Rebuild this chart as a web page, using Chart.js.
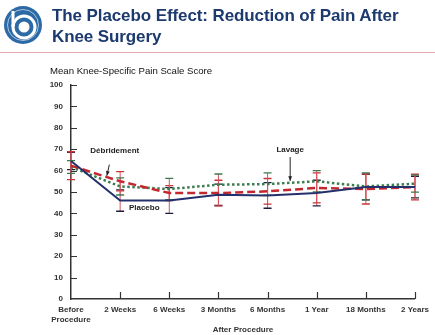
<!DOCTYPE html>
<html>
<head>
<meta charset="utf-8">
<script src="https://cdn.jsdelivr.net/npm/chart.js@4.4.1/dist/chart.umd.min.js"></script>
<style>
  html, body { margin:0; padding:0; background:#fff; }
  #wrap { position:relative; width:435px; height:335px; overflow:hidden; font-family:"Liberation Sans", Arial, sans-serif; }
  #cv { position:absolute; left:0; top:0; }
  #title { position:absolute; left:52px; top:5px; font-size:17px; font-weight:bold; color:#1c3a6e; line-height:21px; letter-spacing:-0.1px; }
  #rule { position:absolute; left:0; top:52px; width:435px; height:1px; background:#e2a6ae; }
  #sub { position:absolute; left:50px; top:65px; font-size:9.6px; color:#111; }
  #logo { position:absolute; left:3px; top:5px; }
</style>
</head>
<body>
<div id="wrap">
  <canvas id="cv" width="435" height="335"></canvas>
  <svg id="logo" width="40" height="40" viewBox="0 0 40 40">
    <circle cx="20" cy="20" r="19" fill="#2c6aa6"/>
    <circle cx="20" cy="20" r="15.5" fill="none" stroke="#ffffff" stroke-width="1" opacity="0.6"/>
    <circle cx="21" cy="22" r="11" fill="none" stroke="#ffffff" stroke-width="3"/>
    <circle cx="21" cy="22" r="5.5" fill="#ffffff"/>
    <rect x="8.5" y="6" width="3" height="16" fill="#ffffff"/>
  </svg>
  <div id="title">The Placebo Effect: Reduction of Pain After<br>Knee Surgery</div>
  <div id="rule"></div>
  <div id="sub">Mean Knee-Specific Pain Scale Score</div>
</div>
<script>
// ---- data ----
const categories = [["Before", "Procedure"], "2 Weeks", "6 Weeks", "3 Months", "6 Months", "1 Year", "18 Months", "2 Years"];
const yTicks = [0, 10, 20, 30, 40, 50, 60, 70, 80, 90, 100];
const placebo     = [64.5, 46, 46, 48.7, 48.4, 49.5, 52.3, 52.3];
const debridement = [62.3, 55, 49.5, 49.5, 50.3, 51.9, 51.4, 52.3];
const lavage      = [61.7, 52.6, 51.4, 53.4, 53.7, 55, 52.6, 53.9];
const placeboErr     = [4, 5, 6, 5, 6, 6, 6, 5];
const debridementErr = [6.5, 4.5, 3.5, 6, 6, 7, 7, 6];
const lavageErr      = [3, 4, 5, 5, 5.2, 5, 6.3, 4];
const seriesNames = ["Placebo", "Débridement", "Lavage"];
const xTitle = "After Procedure";
// annotation anchor positions in data units [index, value]
const annotations = [
  { text: "Débridement", at: [0.89, 69.3], arrow: [[0.78, 62.8], [0.73, 57.6]] },
  { text: "Placebo", at: [1.49, 42.4], arrow: null },
  { text: "Lavage", at: [4.46, 69.8], arrow: [[4.46, 66.3], [4.46, 55.2]] }
];

const axisColor = '#333333';
const labelFont = { family: '"Liberation Sans", Arial, sans-serif', size: 8, weight: 'bold' };

const errorBars = {
  id: 'errorBars',
  beforeDatasetsDraw(chart) {
    const ctx = chart.ctx, xs = chart.scales.x, ys = chart.scales.y;
    const sets = [
      { v: placebo, e: placeboErr, cap: '#1d1d3a' },
      { v: debridement, e: debridementErr, cap: '#c8343a' },
      { v: lavage, e: lavageErr, cap: '#3d7a4f' }
    ];
    ctx.save();
    sets.forEach(s => {
      s.v.forEach((val, i) => {
        const x = xs.getPixelForValue(i);
        const yt = ys.getPixelForValue(val + s.e[i]);
        const yb = ys.getPixelForValue(val - s.e[i]);
        ctx.strokeStyle = '#d9535a';
        ctx.lineWidth = 1;
        ctx.beginPath(); ctx.moveTo(x, yt); ctx.lineTo(x, yb); ctx.stroke();
        ctx.strokeStyle = s.cap;
        ctx.lineWidth = 1.3;
        ctx.beginPath();
        ctx.moveTo(x - 4, yt); ctx.lineTo(x + 4, yt);
        ctx.moveTo(x - 4, yb); ctx.lineTo(x + 4, yb);
        ctx.stroke();
      });
    });
    ctx.restore();
  }
};

const innerTicks = {
  id: 'innerTicks',
  afterDraw(chart) {
    const ctx = chart.ctx, xs = chart.scales.x, ys = chart.scales.y;
    const left = chart.chartArea.left, bottom = chart.chartArea.bottom;
    ctx.save();
    ctx.strokeStyle = axisColor;
    ctx.lineWidth = 1.2;
    ctx.beginPath();
    yTicks.forEach(t => {
      if (t === 0) return;
      const y = Math.round(ys.getPixelForValue(t)) + 0.5;
      ctx.moveTo(left, y); ctx.lineTo(left + 6, y);
    });
    categories.forEach((c, i) => {
      if (i === 0) return;
      const x = Math.round(xs.getPixelForValue(i)) + 0.5;
      ctx.moveTo(x, bottom); ctx.lineTo(x, bottom - 7);
    });
    ctx.stroke();
    // annotations
    ctx.fillStyle = '#222';
    ctx.font = 'bold 8px "Liberation Sans", Arial, sans-serif';
    ctx.textAlign = 'center';
    ctx.textBaseline = 'middle';
    const px = (p) => [xs.getPixelForValue(0) + (xs.getPixelForValue(1) - xs.getPixelForValue(0)) * p[0], ys.getPixelForValue(p[1])];
    annotations.forEach(a => {
      const [tx, ty] = px(a.at);
      ctx.fillText(a.text, tx, ty);
      if (a.arrow) {
        const [x1, y1] = px(a.arrow[0]);
        const [x2, y2] = px(a.arrow[1]);
        ctx.strokeStyle = '#222';
        ctx.lineWidth = 1;
        ctx.beginPath(); ctx.moveTo(x1, y1); ctx.lineTo(x2, y2); ctx.stroke();
        const ang = Math.atan2(y2 - y1, x2 - x1);
        ctx.beginPath();
        ctx.moveTo(x2, y2);
        ctx.lineTo(x2 - 5 * Math.cos(ang - 0.4), y2 - 5 * Math.sin(ang - 0.4));
        ctx.lineTo(x2 - 5 * Math.cos(ang + 0.4), y2 - 5 * Math.sin(ang + 0.4));
        ctx.closePath(); ctx.fill();
      }
    });
    ctx.restore();
  }
};

new Chart(document.getElementById('cv'), {
  type: 'line',
  data: {
    labels: categories,
    datasets: [
      { label: seriesNames[0], data: placebo, borderColor: '#23306b', borderWidth: 2, pointRadius: 0, tension: 0, order: 1 },
      { label: seriesNames[1], data: debridement, borderColor: '#c3282f', borderWidth: 2.5, borderDash: [8, 4], pointRadius: 0, tension: 0, order: 2 },
      { label: seriesNames[2], data: lavage, borderColor: '#3c7d50', borderWidth: 2.5, borderDash: [2.5, 2.5], pointRadius: 0, tension: 0, order: 3 }
    ]
  },
  options: {
    responsive: false,
    animation: false,
    layout: { padding: { top: 85, right: 20, bottom: 0, left: 0 } },
    plugins: { legend: { display: false }, tooltip: { enabled: false } },
    scales: {
      x: {
        type: 'category',
        offset: false,
        grid: { display: true, drawOnChartArea: false, drawTicks: false, color: 'rgba(0,0,0,0)' },
        border: { display: true, color: axisColor, width: 1.5 },
        ticks: { font: labelFont, color: '#333', padding: 6, maxRotation: 0, autoSkip: false },
        title: { display: true, text: xTitle, font: labelFont, color: '#333', padding: { top: 3, bottom: 0 } },
        afterFit(s) { s.height = 36; }
      },
      y: {
        min: 0, max: 100,
        afterBuildTicks(s) { s.ticks = yTicks.map(v => ({ value: v })); },
        grid: { display: true, drawOnChartArea: false, drawTicks: false, color: 'rgba(0,0,0,0)' },
        border: { display: true, color: axisColor, width: 1.5 },
        ticks: { font: labelFont, color: '#333', padding: 8 },
        afterFit(s) { s.width = 71; }
      }
    }
  },
  plugins: [errorBars, innerTicks]
});
</script>
</body>
</html>
